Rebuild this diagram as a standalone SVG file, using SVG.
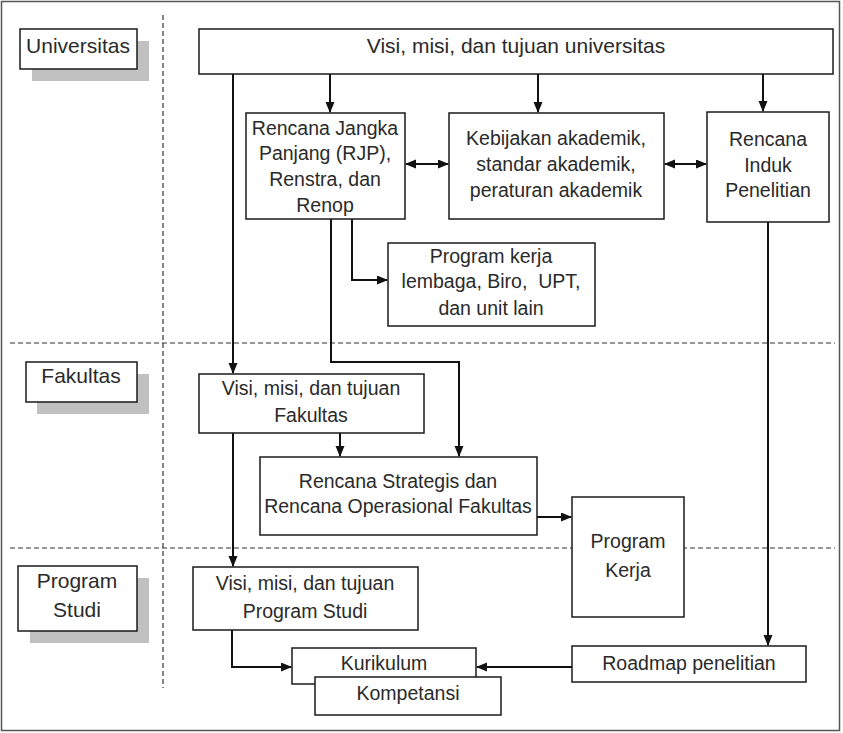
<svg xmlns="http://www.w3.org/2000/svg" width="843" height="733" viewBox="0 0 843 733">
<style>
.box{fill:#fff;stroke:#1a1a1a;stroke-width:1.5}
.shadow{fill:#c0c0c0;stroke:none}
.t{font-family:"Liberation Sans",Arial,sans-serif;font-size:19.5px;fill:#2a2a2a;text-anchor:middle}
.tl{font-size:21px}
.c{fill:none;stroke:#111;stroke-width:2}
.d{fill:none;stroke:#333;stroke-width:1.2;stroke-dasharray:5,3}
</style>
<defs>
<marker id="ah" markerUnits="userSpaceOnUse" markerWidth="11" markerHeight="10" refX="10" refY="4.5" orient="auto-start-reverse" viewBox="0 0 11 10">
<path d="M0,0 L11,4.5 L0,9 z" fill="#111"/>
</marker>
</defs>
<rect x="1.5" y="1.5" width="838" height="729" fill="#fff" stroke="#555" stroke-width="1.5"/>
<g id="dividers">
<line class="d" x1="163" y1="15" x2="163" y2="688"/>
<line class="d" x1="10" y1="343" x2="835" y2="343"/>
<line class="d" x1="10" y1="548" x2="835" y2="548"/>
</g>
<g id="label-universitas">
<rect class="shadow" x="32" y="41" width="117" height="40"/>
<rect class="box" x="20" y="29" width="117" height="40"/>
<text class="t tl" x="78" y="53">Universitas</text>
</g>
<g id="label-fakultas">
<rect class="shadow" x="37" y="374" width="112" height="40"/>
<rect class="box" x="26" y="362" width="111" height="40"/>
<text class="t tl" x="81" y="383">Fakultas</text>
</g>
<g id="label-prodi">
<rect class="shadow" x="30" y="578" width="119" height="65"/>
<rect class="box" x="18" y="566" width="119" height="65"/>
<text class="t tl" x="77" y="588">Program</text>
<text class="t tl" x="77" y="617">Studi</text>
</g>
<g id="connectors">
<path class="c" d="M330,74 V112" marker-end="url(#ah)"/>
<path class="c" d="M538,74 V112" marker-end="url(#ah)"/>
<path class="c" d="M763,74 V111" marker-end="url(#ah)"/>
<path class="c" d="M406,164 H448" marker-start="url(#ah)" marker-end="url(#ah)"/>
<path class="c" d="M665,164 H706" marker-start="url(#ah)" marker-end="url(#ah)"/>
<path class="c" d="M352,219 V280 H387" marker-end="url(#ah)"/>
<path class="c" d="M331,219 V362 H459 V456" marker-end="url(#ah)"/>
<path class="c" d="M233,74 V373" marker-end="url(#ah)"/>
<path class="c" d="M233,433 V566" marker-end="url(#ah)"/>
<path class="c" d="M340,433 V456" marker-end="url(#ah)"/>
<path class="c" d="M537,517 H571" marker-end="url(#ah)"/>
<path class="c" d="M768,222 V645" marker-end="url(#ah)"/>
<path class="c" d="M232,630 V667 H291" marker-end="url(#ah)"/>
<path class="c" d="M572,667 H477" marker-end="url(#ah)"/>
</g>
<g id="visi-universitas">
<rect class="box" x="199" y="29" width="634" height="45"/>
<text class="t tl" x="516" y="53">Visi, misi, dan tujuan universitas</text>
</g>
<g id="rjp">
<rect class="box" x="246" y="113" width="159" height="106"/>
<text class="t" x="325" y="135">Rencana Jangka</text>
<text class="t" x="325" y="160">Panjang (RJP),</text>
<text class="t" x="325" y="186">Renstra, dan</text>
<text class="t" x="325" y="212">Renop</text>
</g>
<g id="kebijakan">
<rect class="box" x="449" y="113" width="215" height="106"/>
<text class="t" x="556" y="145">Kebijakan akademik,</text>
<text class="t" x="556" y="171">standar akademik,</text>
<text class="t" x="556" y="197">peraturan akademik</text>
</g>
<g id="induk">
<rect class="box" x="707" y="112" width="122" height="110"/>
<text class="t" x="768" y="146">Rencana</text>
<text class="t" x="768" y="172">Induk</text>
<text class="t" x="768" y="197">Penelitian</text>
</g>
<g id="program-kerja-lembaga">
<rect class="box" x="388" y="243" width="207" height="83"/>
<text class="t" x="491" y="263">Program kerja</text>
<text class="t" x="491" y="288" style="white-space:pre" xml:space="preserve">lembaga, Biro,  UPT,</text>
<text class="t" x="491" y="315">dan unit lain</text>
</g>
<g id="visi-fakultas">
<rect class="box" x="199" y="374" width="225" height="59"/>
<text class="t" x="311" y="395">Visi, misi, dan tujuan</text>
<text class="t" x="311" y="422">Fakultas</text>
</g>
<g id="renstra-fakultas">
<rect class="box" x="260" y="457" width="277" height="78"/>
<text class="t" x="398" y="488">Rencana Strategis dan</text>
<text class="t" x="398" y="513">Rencana Operasional Fakultas</text>
</g>
<g id="program-kerja">
<rect class="box" x="572" y="497" width="112" height="120"/>
<text class="t" x="628" y="548">Program</text>
<text class="t" x="628" y="577">Kerja</text>
</g>
<g id="visi-prodi">
<rect class="box" x="193" y="567" width="225" height="63"/>
<text class="t" x="305" y="590">Visi, misi, dan tujuan</text>
<text class="t" x="305" y="618">Program Studi</text>
</g>
<g id="kurikulum">
<rect class="box" x="292" y="648" width="184" height="36"/>
<text class="t" x="384" y="670">Kurikulum</text>
</g>
<g id="kompetansi">
<rect class="box" x="315" y="677" width="186" height="38"/>
<text class="t" x="408" y="700">Kompetansi</text>
</g>
<g id="roadmap">
<rect class="box" x="572" y="646" width="234" height="36"/>
<text class="t" x="689" y="670">Roadmap penelitian</text>
</g>
</svg>
